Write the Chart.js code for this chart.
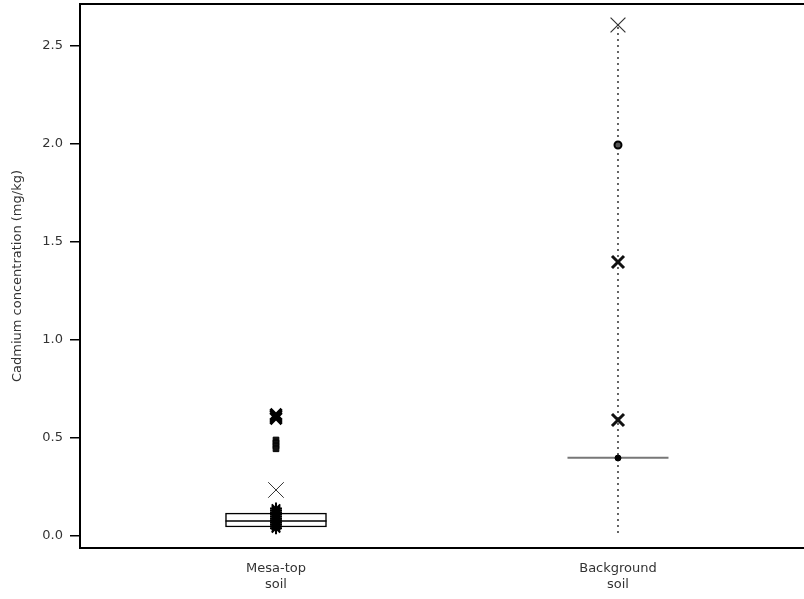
<!DOCTYPE html>
<html>
<head>
<meta charset="utf-8">
<script src="https://cdn.jsdelivr.net/npm/chart.js@4"></script>
<style>
  html, body { margin: 0; padding: 0; background: #fff; }
  #wrap { width: 804px; height: 599px; }
</style>
</head>
<body>
<div id="wrap"><canvas id="boxChart"></canvas></div>
<script>
// Categories and tick labels
const categories = [["Mesa-top", "soil"], ["Background", "soil"]];
const yTicks = [0, 0.5, 1.0, 1.5, 2.0, 2.5];

// Box summaries per category (mg/kg)
const boxLow = [0.046, 0.40];
const boxHigh = [0.117, 0.40];
const medians = [0.077, 0.40];
const whiskerLow = [0.04, 0.015];
const whiskerHigh = [0.14, 2.607];

// Outliers, Mesa-top soil
const mesaCluster = [0.14, 0.13, 0.12, 0.11, 0.10, 0.09, 0.08, 0.07, 0.06, 0.05, 0.04];
const mesaMid = [0.49, 0.475, 0.46, 0.445];
const mesaHigh = [0.62, 0.61, 0.60];
const mesaCross = [0.235];

// Outliers, Background soil
const bgCrossThin = [2.607];
const bgCircle = [1.995];
const bgCrossBold = [1.398, 0.592];
const bgMedianDot = [0.398];

const pts = (xi, arr) => arr.map(v => ({ x: xi, y: v }));

// keep the plot frame where the reference has it
const noPad = s => { s.paddingTop = 0; s.paddingBottom = 0; s.paddingLeft = 0; s.paddingRight = 0; };

const ctx = document.getElementById("boxChart").getContext("2d");
new Chart(ctx, {
    type: "scatter",
    data: {
        datasets: [
            { data: pts(1, mesaCluster), pointStyle: "star", pointRadius: 6, borderWidth: 2,
              borderColor: "#000", backgroundColor: "#000", order: 1 },
            { data: pts(1, mesaMid), pointStyle: "rect", pointRadius: 4, borderWidth: 1,
              borderColor: "#000", backgroundColor: "#111", order: 1 },
            { data: pts(1, mesaHigh), pointStyle: "crossRot", pointRadius: 8, borderWidth: 3,
              borderColor: "#000", backgroundColor: "#000", order: 1 },
            { data: pts(1, mesaCross), pointStyle: "crossRot", pointRadius: 11, borderWidth: 1,
              borderColor: "#333", order: 1 },
            { data: pts(2, bgCrossThin), pointStyle: "crossRot", pointRadius: 10.5, borderWidth: 1.2,
              borderColor: "#333", order: 1 },
            { data: pts(2, bgCircle), pointStyle: "circle", pointRadius: 3.5, borderWidth: 2,
              borderColor: "#000", backgroundColor: "#555", order: 1 },
            { data: pts(2, bgCrossBold), pointStyle: "crossRot", pointRadius: 8.5, borderWidth: 3,
              borderColor: "#111", order: 1 },
            { data: pts(2, bgMedianDot), pointStyle: "circle", pointRadius: 3, borderWidth: 1,
              borderColor: "#000", backgroundColor: "#000", order: 1 },
            // medians
            { data: medians.map((v, i) => ({ x: i + 1, y: v })), pointStyle: "line", pointRadius: 50.5,
              borderWidth: [1.5, 2], borderColor: ["#000", "#777"], order: 2 },
            // whiskers
            ...categories.map((c, i) => ({
                type: "line",
                data: [{ x: i + 1, y: whiskerLow[i] }, { x: i + 1, y: whiskerHigh[i] }],
                borderColor: "#333", borderWidth: 1.5, borderDash: [2, 4],
                pointRadius: 0, order: 8
            })),
            // boxes
            {
                type: "bar",
                data: boxLow.map((v, i) => ({ x: i + 1, y: [v, boxHigh[i]] })),
                backgroundColor: "#fff", borderColor: "#000", borderWidth: 1.5,
                borderSkipped: false, barThickness: 101, grouped: false, order: 9
            }
        ]
    },
    options: {
        responsive: true,
        maintainAspectRatio: false,
        animation: false,
        layout: { padding: 0, autoPadding: false },
        plugins: { legend: { display: false }, tooltip: { enabled: false } },
        scales: {
            x: {
                type: "linear",
                position: "bottom",
                min: 0.4269,
                max: 2.5439,
                offset: false,
                grid: { display: true, offset: false, drawOnChartArea: false, drawTicks: false },
                border: { display: true, color: "#000", width: 2 },
                afterBuildTicks: s => { s.ticks = categories.map((c, i) => ({ value: i + 1 })); },
                afterFit: s => { s.height = 51; noPad(s); },
                ticks: {
                    autoSkip: false,
                    maxRotation: 0,
                    padding: 13,
                    color: "#333",
                    font: { family: "DejaVu Sans", size: 13 },
                    callback: (v, i) => categories[i]
                }
            },
            xTop: {
                type: "linear",
                position: "top",
                min: 0.4269,
                max: 2.5439,
                offset: false,
                grid: { offset: false, drawOnChartArea: false, drawTicks: false },
                border: { display: true, color: "#000", width: 2 },
                ticks: { display: false },
                afterFit: s => { s.height = 4; noPad(s); }
            },
            y: {
                type: "linear",
                min: -0.061,
                max: 2.714,
                afterBuildTicks: s => { s.ticks = yTicks.map(v => ({ value: v })); },
                afterFit: s => { s.width = 80; noPad(s); },
                grid: { drawOnChartArea: false, drawTicks: true, tickLength: 10, color: "#000", lineWidth: 1.5 },
                border: { display: true, color: "#000", width: 2 },
                ticks: {
                    padding: 7,
                    color: "#333",
                    font: { family: "DejaVu Sans", size: 13 },
                    callback: v => v.toFixed(1)
                },
                title: {
                    display: true,
                    text: "Cadmium concentration (mg/kg)",
                    color: "#333",
                    font: { family: "DejaVu Sans", size: 13 },
                    padding: { top: 10, bottom: 0 }
                }
            }
        }
    }
});
</script>
</body>
</html>
